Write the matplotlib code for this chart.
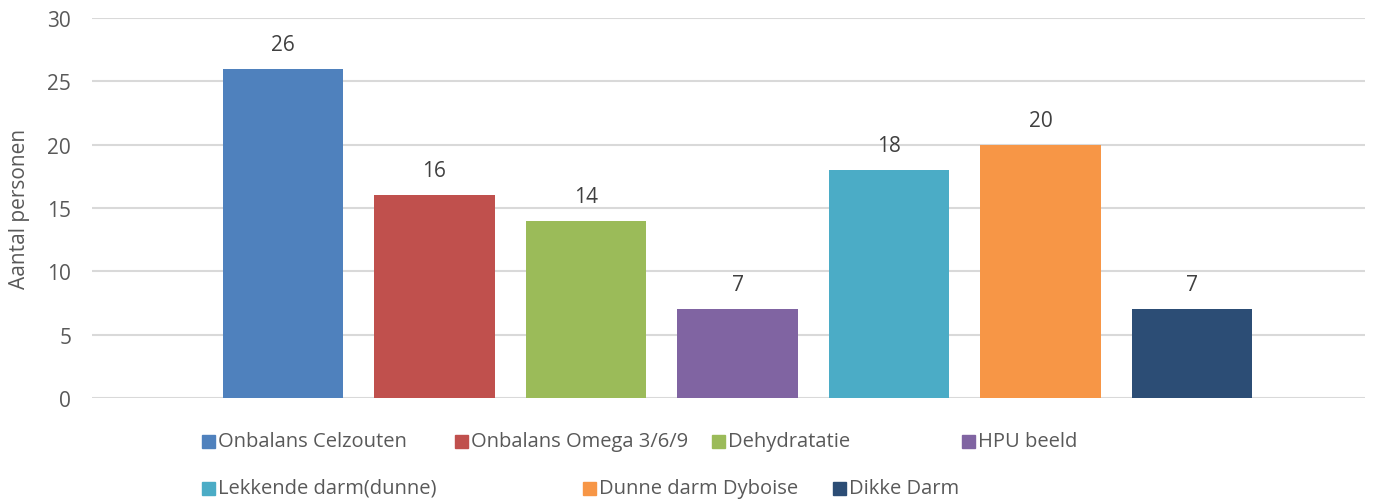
import numpy as np
import matplotlib.pyplot as plt
from matplotlib.patches import Rectangle

plt.rcParams['font.family'] = ['Open Sans', 'DejaVu Sans']

categories = ['Onbalans Celzouten', 'Onbalans Omega 3/6/9', 'Dehydratatie', 'HPU beeld',
              'Lekkende darm(dunne)', 'Dunne darm Dyboise', 'Dikke Darm']
values = [26, 16, 14, 7, 18, 20, 7]
colors = ['#4f81bd', '#c0504d', '#9bbb59', '#8064a2', '#4bacc6', '#f79646', '#2c4d75']
yticks = [0, 5, 10, 15, 20, 25, 30]

fig = plt.figure(figsize=(13.76, 5.02), dpi=100)
ax = fig.add_axes([92/1376, 1-399/502, (1365-92)/1376, (399-19)/502])

x = np.arange(len(values))
bars = ax.bar(x, values, width=0.795, color=colors, zorder=3)
for xi, v in zip(x, values):
    ax.annotate(str(v), (xi, v), xytext=(0, 10), textcoords='offset points',
                ha='center', va='bottom', fontsize=15, color='#404040')

ax.set_xlim(-1.26, 7.14)
ax.set_ylim(0, 30)
ax.set_yticks(yticks)
ax.set_xticks([])
ax.yaxis.grid(True, color='#d9d9d9', linewidth=1.5, zorder=0)
for s in ax.spines.values():
    s.set_visible(False)
ax.tick_params(axis='y', length=0, labelsize=15, labelcolor='#595959', pad=15)
ax.set_ylabel('Aantal personen', fontsize=15, color='#595959', labelpad=12)

# legend, laid out like the Excel grid
leg_pos = [(202, 442), (455, 442), (712, 442), (962, 442),
           (202, 489), (583, 489), (833, 489)]
W, H = 1376, 502
sq = 13
for (px, py), lab, c in zip(leg_pos, categories, colors):
    fig.patches.append(Rectangle((px/W, 1-(py+sq/2)/H), sq/W, sq/H,
                                 transform=fig.transFigure, color=c))
    fig.text((px+sq+3)/W, 1-py/H, lab, fontsize=14.5, color='#595959',
             ha='left', va='center')

fig.savefig('out.png', dpi=100)
